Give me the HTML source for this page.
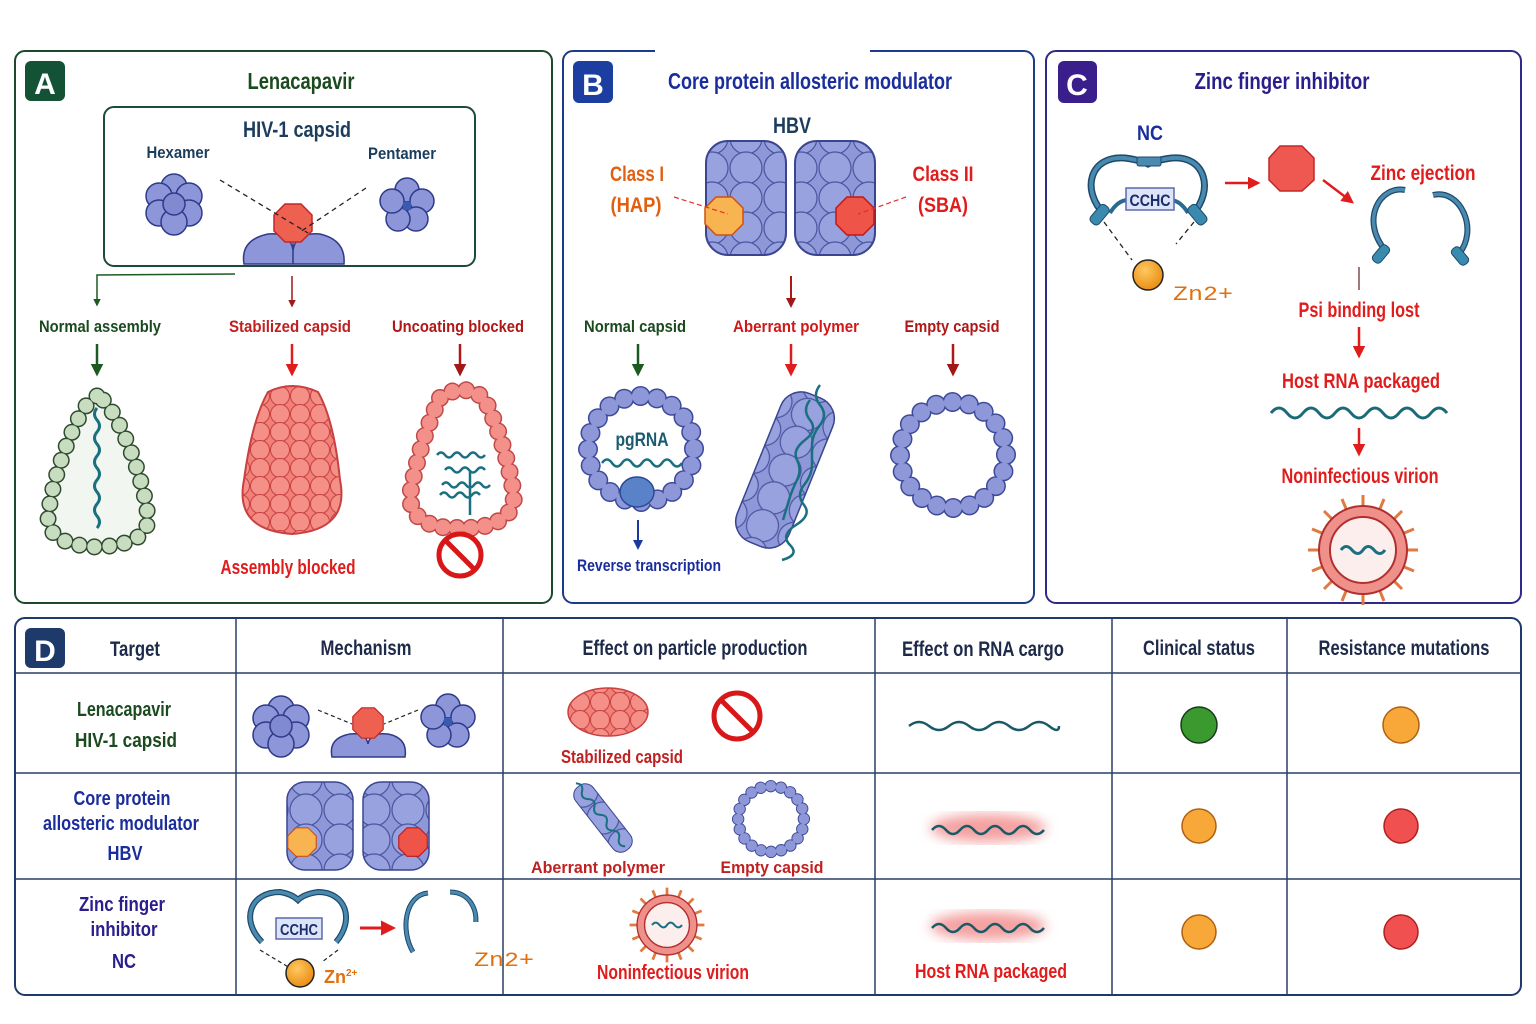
<!DOCTYPE html>
<html><head><meta charset="utf-8"><style>
html,body{margin:0;padding:0;background:#fff}
svg{display:block}
text{font-family:"Liberation Sans",sans-serif;font-weight:bold}
</style></head><body>
<svg width="1536" height="1024" viewBox="0 0 1536 1024" xmlns="http://www.w3.org/2000/svg">
<defs>
<marker id="ar" viewBox="0 0 10 10" refX="8" refY="5" markerWidth="5" markerHeight="5" orient="auto"><path d="M0,0L10,5L0,10z" fill="#e01c1c"/></marker>
<marker id="ad" viewBox="0 0 10 10" refX="8" refY="5" markerWidth="5" markerHeight="5" orient="auto"><path d="M0,0L10,5L0,10z" fill="#a01818"/></marker>
<marker id="ag" viewBox="0 0 10 10" refX="8" refY="5" markerWidth="5" markerHeight="5" orient="auto"><path d="M0,0L10,5L0,10z" fill="#1d5a22"/></marker>
<marker id="ab" viewBox="0 0 10 10" refX="8" refY="5" markerWidth="5" markerHeight="5" orient="auto"><path d="M0,0L10,5L0,10z" fill="#1a3aa0"/></marker>
<pattern id="redhex" width="20" height="18" patternUnits="userSpaceOnUse">
<circle cx="10" cy="9" r="9.5" fill="#f08078" stroke="#c84040" stroke-width="1"/>
<circle cx="0" cy="0" r="9.5" fill="#f59088" stroke="#c84040" stroke-width="1"/>
<circle cx="20" cy="0" r="9.5" fill="#f59088" stroke="#c84040" stroke-width="1"/>
<circle cx="0" cy="18" r="9.5" fill="#f59088" stroke="#c84040" stroke-width="1"/>
<circle cx="20" cy="18" r="9.5" fill="#f59088" stroke="#c84040" stroke-width="1"/>
</pattern>
<pattern id="bluehex" width="34" height="30" patternUnits="userSpaceOnUse">
<circle cx="17" cy="15" r="16" fill="#8e98d8" stroke="#4a55a0" stroke-width="1.2"/>
<circle cx="0" cy="0" r="16" fill="#98a2de" stroke="#4a55a0" stroke-width="1.2"/>
<circle cx="34" cy="0" r="16" fill="#98a2de" stroke="#4a55a0" stroke-width="1.2"/>
<circle cx="0" cy="30" r="16" fill="#98a2de" stroke="#4a55a0" stroke-width="1.2"/>
<circle cx="34" cy="30" r="16" fill="#98a2de" stroke="#4a55a0" stroke-width="1.2"/>
</pattern>
<radialGradient id="zn" cx="0.4" cy="0.35" r="0.7"><stop offset="0" stop-color="#ffc860"/><stop offset="1" stop-color="#e88a10"/></radialGradient>
<filter id="blur"><feGaussianBlur stdDeviation="6"/></filter>
<g id="hexa">
<circle cx="0" cy="-17" r="13" fill="#8c96d8" stroke="#2f3a8a" stroke-width="1.5"/>
<circle cx="-15" cy="-8" r="13" fill="#8c96d8" stroke="#2f3a8a" stroke-width="1.5"/>
<circle cx="15" cy="-8" r="13" fill="#8c96d8" stroke="#2f3a8a" stroke-width="1.5"/>
<circle cx="-15" cy="9" r="13" fill="#8c96d8" stroke="#2f3a8a" stroke-width="1.5"/>
<circle cx="15" cy="9" r="13" fill="#8c96d8" stroke="#2f3a8a" stroke-width="1.5"/>
<circle cx="0" cy="18" r="13" fill="#8c96d8" stroke="#2f3a8a" stroke-width="1.5"/>
<circle cx="0" cy="0" r="11" fill="#7f8ad0" stroke="#2f3a8a" stroke-width="1.5"/>
</g>
<g id="penta">
<circle cx="0" cy="-16" r="12" fill="#8c96d8" stroke="#2f3a8a" stroke-width="1.5"/>
<circle cx="15" cy="-5" r="12" fill="#8c96d8" stroke="#2f3a8a" stroke-width="1.5"/>
<circle cx="9" cy="13" r="12" fill="#8c96d8" stroke="#2f3a8a" stroke-width="1.5"/>
<circle cx="-9" cy="13" r="12" fill="#8c96d8" stroke="#2f3a8a" stroke-width="1.5"/>
<circle cx="-15" cy="-5" r="12" fill="#8c96d8" stroke="#2f3a8a" stroke-width="1.5"/>
<rect x="-4" y="-4" width="8" height="8" fill="#3a5ab0"/>
</g>
<path id="oct" d="M-8,-19L8,-19L19,-8L19,8L8,19L-8,19L-19,8L-19,-8Z"/>
<g id="blob">
<rect x="-40" y="-57" width="80" height="114" rx="22" fill="url(#bluehex)" stroke="#3a4590" stroke-width="2"/>
</g>
<g id="ringc">
<circle r="53" fill="none" stroke="#3d4a9a" stroke-width="20" stroke-dasharray="0 16.6" stroke-linecap="round"/>
<circle r="53" fill="none" stroke="#8e98d8" stroke-width="17" stroke-dasharray="0 16.6" stroke-linecap="round"/>
</g>
</defs>

<!-- Panel A -->
<rect x="15" y="51" width="537" height="552" rx="10" fill="#fff" stroke="#1d4a2c" stroke-width="2"/>
<rect x="25" y="61" width="40" height="40" rx="6" fill="#145236"/>
<text x="45" y="94" text-anchor="middle" font-size="30" fill="#fff">A</text>
<text x="301" y="89" text-anchor="middle" font-size="23" fill="#1a4a1e" textLength="107" lengthAdjust="spacingAndGlyphs">Lenacapavir</text>
<rect x="104" y="107" width="371" height="159" rx="10" fill="#fff" stroke="#1d4a3c" stroke-width="2"/>
<text x="297" y="137" text-anchor="middle" font-size="22" fill="#1c3c5c" textLength="108" lengthAdjust="spacingAndGlyphs">HIV-1 capsid</text>
<text x="178" y="158" text-anchor="middle" font-size="17" fill="#1c3c5c" textLength="63" lengthAdjust="spacingAndGlyphs">Hexamer</text>
<text x="402" y="159" text-anchor="middle" font-size="17" fill="#1c3c5c" textLength="68" lengthAdjust="spacingAndGlyphs">Pentamer</text>
<use href="#hexa" x="174" y="204"/>
<use href="#penta" x="407" y="206"/>
<path d="M244,264 Q240,240 268,234 Q290,232 293,250 Q296,232 320,234 Q346,240 344,264Z" fill="#8c96d8" stroke="#2f3a8a" stroke-width="1.5"/>
<line x1="293" y1="240" x2="293" y2="264" stroke="#2f3a8a" stroke-width="1.5"/>
<use href="#oct" x="293" y="223" fill="#ee6050" stroke="#c02828" stroke-width="1.5"/>
<path d="M220,180L308,233M366,188L300,232" stroke="#222" stroke-width="1.3" stroke-dasharray="5 4" fill="none"/>
<path d="M235,274L97,275L97,305" stroke="#1d5a22" stroke-width="1.5" fill="none" marker-end="url(#ag)"/>
<line x1="292" y1="276" x2="292" y2="306" stroke="#a01818" stroke-width="1.5" marker-end="url(#ad)"/>
<text x="100" y="332" text-anchor="middle" font-size="17" fill="#1a4a1e" textLength="122" lengthAdjust="spacingAndGlyphs">Normal assembly</text>
<text x="290" y="332" text-anchor="middle" font-size="17" fill="#c02020" textLength="122" lengthAdjust="spacingAndGlyphs">Stabilized capsid</text>
<text x="458" y="332" text-anchor="middle" font-size="17" fill="#b01818" textLength="132" lengthAdjust="spacingAndGlyphs">Uncoating blocked</text>
<line x1="97" y1="344" x2="97" y2="374" stroke="#1d5a22" stroke-width="2.5" marker-end="url(#ag)"/>
<line x1="292" y1="344" x2="292" y2="374" stroke="#e01c1c" stroke-width="2.5" marker-end="url(#ar)"/>
<line x1="460" y1="344" x2="460" y2="374" stroke="#b01818" stroke-width="2.5" marker-end="url(#ad)"/>
<!-- green cone -->
<path d="M97,396 C80,400 50,480 48,520 Q50,545 97,547 Q146,545 148,520 C146,480 114,400 97,396Z" fill="#f2f6f0" stroke="#2e4a2e" stroke-width="17" stroke-dasharray="0 15" stroke-linecap="round"/>
<path d="M97,396 C80,400 50,480 48,520 Q50,545 97,547 Q146,545 148,520 C146,480 114,400 97,396Z" fill="none" stroke="#c8dcc0" stroke-width="14" stroke-dasharray="0 15" stroke-linecap="round"/>
<path d="M97,408 q-5,6 0,12 t0,12 t0,12 t0,12 t0,12 t0,12 t0,12 t0,12 t0,12 t0,12" stroke="#1a7080" stroke-width="3" fill="none"/>
<!-- red filled cone -->
<path d="M268,392 Q292,380 318,392 Q334,420 340,480 Q350,530 292,534 Q234,530 244,480 Q252,420 268,392Z" fill="url(#redhex)" stroke="#c84040" stroke-width="2"/>
<text x="288" y="574" text-anchor="middle" font-size="20" fill="#e01c1c" textLength="135" lengthAdjust="spacingAndGlyphs">Assembly blocked</text>
<!-- red ring cone -->
<path d="M440,398 Q462,382 484,398 Q505,440 514,495 Q514,525 470,528 L450,528 Q410,525 410,495 Q420,440 440,398Z" fill="#fff" stroke="#c04848" stroke-width="18" stroke-dasharray="0 14" stroke-linecap="round"/>
<path d="M440,398 Q462,382 484,398 Q505,440 514,495 Q514,525 470,528 L450,528 Q410,525 410,495 Q420,440 440,398Z" fill="none" stroke="#f4908a" stroke-width="15" stroke-dasharray="0 14" stroke-linecap="round"/>
<path d="M437,455 q4,-5 8,0 t8,0 t8,0 t8,0 t8,0 t8,0 M445,470 q4,-5 8,0 t8,0 t8,0 t8,0 t8,0 M442,485 q4,-5 8,0 t8,0 t8,0 t8,0 t8,0 t8,0 M440,495 q4,-5 8,0 t8,0 t8,0 t8,0 t8,0 M470,470 L470,515" stroke="#1a7080" stroke-width="2.5" fill="none"/>
<circle cx="460" cy="555" r="21" fill="#fff" stroke="#d81818" stroke-width="5"/>
<line x1="446" y1="541" x2="474" y2="569" stroke="#d81818" stroke-width="5"/>

<!-- Panel B -->
<rect x="563" y="51" width="471" height="552" rx="10" fill="#fff" stroke="#1e3a8a" stroke-width="2"/>
<rect x="655" y="45" width="215" height="10" fill="#fff"/>
<rect x="573" y="61" width="40" height="42" rx="6" fill="#1c3ea0"/>
<text x="593" y="95" text-anchor="middle" font-size="30" fill="#fff">B</text>
<text x="810" y="89" text-anchor="middle" font-size="23" fill="#1a2d9c" textLength="284" lengthAdjust="spacingAndGlyphs">Core protein allosteric modulator</text>
<text x="792" y="133" text-anchor="middle" font-size="22" fill="#1c3c5c" textLength="38" lengthAdjust="spacingAndGlyphs">HBV</text>
<use href="#blob" x="746" y="198"/>
<use href="#blob" x="835" y="198"/>
<use href="#oct" x="724" y="216" fill="#f8b450" stroke="#d05010" stroke-width="1.5"/>
<use href="#oct" x="855" y="216" fill="#ee5448" stroke="#c01818" stroke-width="1.5"/>
<text x="637" y="181" text-anchor="middle" font-size="21" fill="#e06010" textLength="54" lengthAdjust="spacingAndGlyphs">Class I</text>
<text x="636" y="212" text-anchor="middle" font-size="21" fill="#e06010" textLength="51" lengthAdjust="spacingAndGlyphs">(HAP)</text>
<text x="943" y="181" text-anchor="middle" font-size="21" fill="#e01c1c" textLength="61" lengthAdjust="spacingAndGlyphs">Class II</text>
<text x="943" y="212" text-anchor="middle" font-size="21" fill="#e01c1c" textLength="50" lengthAdjust="spacingAndGlyphs">(SBA)</text>
<path d="M674,197L728,214M906,197L858,214" stroke="#e03030" stroke-width="1.2" stroke-dasharray="5 3"/>
<line x1="791" y1="276" x2="791" y2="306" stroke="#b01818" stroke-width="2" marker-end="url(#ad)"/>
<text x="635" y="332" text-anchor="middle" font-size="17" fill="#1a4a1e" textLength="102" lengthAdjust="spacingAndGlyphs">Normal capsid</text>
<text x="796" y="332" text-anchor="middle" font-size="17" fill="#d01818" textLength="126" lengthAdjust="spacingAndGlyphs">Aberrant polymer</text>
<text x="952" y="332" text-anchor="middle" font-size="17" fill="#b01818" textLength="95" lengthAdjust="spacingAndGlyphs">Empty capsid</text>
<line x1="638" y1="344" x2="638" y2="374" stroke="#1d5a22" stroke-width="2.5" marker-end="url(#ag)"/>
<line x1="791" y1="344" x2="791" y2="374" stroke="#e01c1c" stroke-width="2.5" marker-end="url(#ar)"/>
<line x1="953" y1="344" x2="953" y2="374" stroke="#b01818" stroke-width="2.5" marker-end="url(#ad)"/>
<use href="#ringc" x="641" y="449"/>
<text x="642" y="446" text-anchor="middle" font-size="19" fill="#1a5a70" textLength="53" lengthAdjust="spacingAndGlyphs">pgRNA</text>
<path d="M602,463 q5,-7 10,0 t10,0 t10,0 t10,0 t10,0 t10,0 t10,0 t10,0" stroke="#1a7080" stroke-width="2.5" fill="none"/>
<ellipse cx="637" cy="492" rx="17" ry="15" fill="#5a82c8" stroke="#2a4a98" stroke-width="1.5"/>
<line x1="638" y1="520" x2="638" y2="548" stroke="#1a3aa0" stroke-width="2" marker-end="url(#ab)"/>
<text x="649" y="571" text-anchor="middle" font-size="17" fill="#1a2d9c" textLength="144" lengthAdjust="spacingAndGlyphs">Reverse transcription</text>
<g transform="translate(785,470) rotate(22)">
<rect x="-28" y="-80" width="56" height="160" rx="22" fill="url(#bluehex)" stroke="#3a4590" stroke-width="1.5"/>
</g>
<path d="M820,385 q-8,10 0,20 t0,20 t-8,20 t0,20 t-8,20 t0,20 t-8,20 t-6,20 t-8,15 M810,400 q-8,10 0,20 t-5,20 t-8,20 t0,20 t-8,20 t-6,20" stroke="#1a7080" stroke-width="2.5" fill="none"/>
<use href="#ringc" x="953" y="455"/>

<!-- Panel C -->
<rect x="1046" y="51" width="475" height="552" rx="10" fill="#fff" stroke="#2e2a8a" stroke-width="2"/>
<rect x="1058" y="61" width="39" height="42" rx="6" fill="#3a1e8c"/>
<text x="1077" y="95" text-anchor="middle" font-size="30" fill="#fff">C</text>
<text x="1282" y="89" text-anchor="middle" font-size="23" fill="#2a1e8c" textLength="175" lengthAdjust="spacingAndGlyphs">Zinc finger inhibitor</text>
<text x="1150" y="140" text-anchor="middle" font-size="21" fill="#1a2d9c" textLength="26" lengthAdjust="spacingAndGlyphs">NC</text>
<path d="M1105,215 C1080,190 1090,155 1125,158 Q1140,160 1148,164 Q1156,160 1172,158 C1205,155 1215,190 1192,215" fill="none" stroke="#1e4a6a" stroke-width="7"/>
<path d="M1105,215 C1080,190 1090,155 1125,158 Q1140,160 1148,164 Q1156,160 1172,158 C1205,155 1215,190 1192,215" fill="none" stroke="#4a8ab0" stroke-width="4"/>
<path d="M1110,213 Q1118,200 1128,200 M1170,200 Q1180,200 1188,213" stroke="#2a6a90" stroke-width="4" fill="none"/>
<rect x="1137" y="157" width="24" height="9" rx="2" fill="#4a8ab0" stroke="#1e4a6a"/>
<rect x="1126" y="188" width="48" height="22" fill="#dde4f8" stroke="#5a6ab0" stroke-width="1.5"/>
<text x="1150" y="206" text-anchor="middle" font-size="17" fill="#1a2d6c" textLength="41" lengthAdjust="spacingAndGlyphs">CCHC</text>
<rect x="1094" y="204" width="11" height="22" rx="4" transform="rotate(40 1100 215)" fill="#3a8ab0" stroke="#1e4a6a"/>
<rect x="1192" y="204" width="11" height="22" rx="4" transform="rotate(-40 1197 215)" fill="#3a8ab0" stroke="#1e4a6a"/>
<path d="M1104,222L1132,260M1194,222L1176,244" stroke="#222" stroke-width="1.3" stroke-dasharray="5 4"/>
<circle cx="1148" cy="275" r="15" fill="url(#zn)" stroke="#222" stroke-width="1.5"/>
<text x="1173" y="300" font-size="20" fill="#e07010" style="font-family:'Liberation Mono',monospace;font-weight:normal" textLength="60" lengthAdjust="spacingAndGlyphs">Zn2+</text>
<line x1="1225" y1="183" x2="1258" y2="183" stroke="#e01c1c" stroke-width="2.5" marker-end="url(#ar)"/>
<path d="M1280,146L1302,146L1314,158L1314,180L1302,191L1280,191L1269,180L1269,158Z" fill="#ee5850" stroke="#c02828" stroke-width="1.5"/>
<line x1="1323" y1="180" x2="1352" y2="202" stroke="#e01c1c" stroke-width="2.5" marker-end="url(#ar)"/>
<text x="1423" y="180" text-anchor="middle" font-size="21" fill="#e01c1c" textLength="105" lengthAdjust="spacingAndGlyphs">Zinc ejection</text>
<path d="M1405,190 C1380,185 1360,220 1385,250 M1433,195 C1460,188 1480,230 1458,255" fill="none" stroke="#1e4a6a" stroke-width="6"/>
<path d="M1405,190 C1380,185 1360,220 1385,250 M1433,195 C1460,188 1480,230 1458,255" fill="none" stroke="#4a8ab0" stroke-width="3.5"/>
<rect x="1376" y="244" width="10" height="20" rx="4" transform="rotate(40 1381 254)" fill="#3a8ab0" stroke="#1e4a6a"/>
<rect x="1455" y="246" width="10" height="20" rx="4" transform="rotate(-40 1460 256)" fill="#3a8ab0" stroke="#1e4a6a"/>
<line x1="1359" y1="267" x2="1359" y2="290" stroke="#602020" stroke-width="1.2"/>
<text x="1359" y="317" text-anchor="middle" font-size="21" fill="#e01c1c" textLength="121" lengthAdjust="spacingAndGlyphs">Psi binding lost</text>
<line x1="1359" y1="327" x2="1359" y2="356" stroke="#e01c1c" stroke-width="2.5" marker-end="url(#ar)"/>
<text x="1361" y="388" text-anchor="middle" font-size="21" fill="#e01c1c" textLength="158" lengthAdjust="spacingAndGlyphs">Host RNA packaged</text>
<path d="M1271,413 q8,-10 16,0 t16,0 t16,0 t16,0 t16,0 t16,0 t16,0 t16,0 t16,0 t16,0 t16,0" stroke="#1a6a78" stroke-width="3" fill="none"/>
<line x1="1359" y1="428" x2="1359" y2="454" stroke="#e01c1c" stroke-width="2.5" marker-end="url(#ar)"/>
<text x="1360" y="483" text-anchor="middle" font-size="21" fill="#e01c1c" textLength="157" lengthAdjust="spacingAndGlyphs">Noninfectious virion</text>
<g transform="translate(1363,550)">
<g stroke="#e07a40" stroke-width="3">
<line x1="0" y1="-55" x2="0" y2="55"/><line x1="-55" y1="0" x2="55" y2="0"/>
<line x1="-39" y1="-39" x2="39" y2="39"/><line x1="-39" y1="39" x2="39" y2="-39"/>
<line x1="-21" y1="-51" x2="21" y2="51"/><line x1="21" y1="-51" x2="-21" y2="51"/>
<line x1="-51" y1="-21" x2="51" y2="21"/><line x1="-51" y1="21" x2="51" y2="-21"/>
</g>
<circle r="44" fill="#f0908a" stroke="#b03030" stroke-width="2"/>
<circle r="33" fill="#fdeeee" stroke="#b03030" stroke-width="2"/>
<path d="M-22,0 q5,-7 11,0 t11,0 t11,0 t11,0" stroke="#1a7080" stroke-width="3" fill="none"/>
</g>

<!-- Panel D -->
<rect x="15" y="618" width="1506" height="377" rx="10" fill="#fff" stroke="#1e3a6a" stroke-width="2"/>
<g stroke="#2a3e6a" stroke-width="1.5">
<line x1="15" y1="673" x2="1521" y2="673"/>
<line x1="15" y1="773" x2="1521" y2="773"/>
<line x1="15" y1="879" x2="1521" y2="879"/>
<line x1="236" y1="618" x2="236" y2="995"/>
<line x1="503" y1="618" x2="503" y2="995"/>
<line x1="875" y1="618" x2="875" y2="995"/>
<line x1="1112" y1="618" x2="1112" y2="995"/>
<line x1="1287" y1="618" x2="1287" y2="995"/>
</g>
<rect x="25" y="628" width="40" height="40" rx="6" fill="#1e3a6a"/>
<text x="45" y="661" text-anchor="middle" font-size="30" fill="#fff">D</text>
<g font-size="21" fill="#1e2a4a" text-anchor="middle" font-weight="normal">
<text x="135" y="656" textLength="50" lengthAdjust="spacingAndGlyphs">Target</text>
<text x="366" y="655" textLength="91" lengthAdjust="spacingAndGlyphs">Mechanism</text>
<text x="695" y="655" textLength="225" lengthAdjust="spacingAndGlyphs">Effect on particle production</text>
<text x="983" y="656" textLength="162" lengthAdjust="spacingAndGlyphs">Effect on RNA cargo</text>
<text x="1199" y="655" textLength="112" lengthAdjust="spacingAndGlyphs">Clinical status</text>
<text x="1404" y="655" textLength="171" lengthAdjust="spacingAndGlyphs">Resistance mutations</text>
</g>
<g font-size="20" text-anchor="middle" font-weight="normal">
<text x="124" y="716" fill="#1a4a1e" textLength="94" lengthAdjust="spacingAndGlyphs">Lenacapavir</text>
<text x="126" y="747" fill="#1a4a1e" textLength="102" lengthAdjust="spacingAndGlyphs">HIV-1 capsid</text>
<text x="122" y="805" fill="#1a2d9c" textLength="97" lengthAdjust="spacingAndGlyphs">Core protein</text>
<text x="121" y="830" fill="#1a2d9c" textLength="156" lengthAdjust="spacingAndGlyphs">allosteric modulator</text>
<text x="125" y="860" fill="#1a2d9c" textLength="35" lengthAdjust="spacingAndGlyphs">HBV</text>
<text x="122" y="911" fill="#2a1e8c" textLength="86" lengthAdjust="spacingAndGlyphs">Zinc finger</text>
<text x="124" y="936" fill="#2a1e8c" textLength="67" lengthAdjust="spacingAndGlyphs">inhibitor</text>
<text x="124" y="968" fill="#2a1e8c" textLength="24" lengthAdjust="spacingAndGlyphs">NC</text>
</g>
<!-- row1 mechanism -->
<use href="#hexa" x="281" y="726"/>
<use href="#penta" x="448" y="722"/>
<path d="M332,757 Q328,738 350,734 Q366,732 368,744 Q370,732 388,734 Q408,738 405,757Z" fill="#8c96d8" stroke="#2f3a8a" stroke-width="1.5"/>
<use href="#oct" x="368" y="723" transform="translate(368 723) scale(0.8) translate(-368 -723)" fill="#ee6050" stroke="#c02828" stroke-width="1.5"/>
<path d="M318,710L352,724M418,710L384,724" stroke="#222" stroke-width="1.2" stroke-dasharray="4 3"/>
<ellipse cx="608" cy="712" rx="40" ry="24" fill="url(#redhex)" stroke="#c84040" stroke-width="1.5"/>
<text x="622" y="763" text-anchor="middle" font-size="18" fill="#c02020" textLength="122" lengthAdjust="spacingAndGlyphs">Stabilized capsid</text>
<circle cx="737" cy="716" r="23" fill="#fff" stroke="#d81818" stroke-width="5"/>
<line x1="721" y1="700" x2="753" y2="732" stroke="#d81818" stroke-width="5"/>
<path d="M909,726 q10,-8 20,0 t20,0 t20,0 t20,0 t20,0 t20,0 t20,0 t10,0" stroke="#1a5a68" stroke-width="2.5" fill="none"/>
<circle cx="1199" cy="725" r="18" fill="#3a9a30" stroke="#1a3a1a" stroke-width="1.5"/>
<circle cx="1401" cy="725" r="18" fill="#f8a838" stroke="#b06010" stroke-width="1.5"/>
<!-- row2 -->
<rect x="287" y="782" width="66" height="88" rx="18" fill="url(#bluehex)" stroke="#3a4590" stroke-width="1.5"/>
<rect x="363" y="782" width="66" height="88" rx="18" fill="url(#bluehex)" stroke="#3a4590" stroke-width="1.5"/>
<use href="#oct" x="302" y="842" transform="translate(302 842) scale(0.75) translate(-302 -842)" fill="#f8b450" stroke="#d05010" stroke-width="1.5"/>
<use href="#oct" x="413" y="842" transform="translate(413 842) scale(0.75) translate(-413 -842)" fill="#ee5448" stroke="#c01818" stroke-width="1.5"/>
<g transform="translate(603,818) rotate(52)">
<rect x="-40" y="-11" width="80" height="22" rx="10" fill="url(#bluehex)" stroke="#3a4590"/>
<path d="M-44,0 q5,-6 10,0 t10,0 t10,0 t10,0 t10,0 t10,0 t10,0 t10,0" stroke="#1a7080" stroke-width="2" fill="none"/>
</g>
<g transform="translate(771,819) scale(0.62)"><use href="#ringc"/></g>
<text x="598" y="873" text-anchor="middle" font-size="17" fill="#c02020" textLength="134" lengthAdjust="spacingAndGlyphs">Aberrant polymer</text>
<text x="772" y="873" text-anchor="middle" font-size="17" fill="#c02020" textLength="103" lengthAdjust="spacingAndGlyphs">Empty capsid</text>
<ellipse cx="988" cy="828" rx="58" ry="14" fill="#f4a0a0" filter="url(#blur)"/>
<path d="M932,830 q7,-8 14,0 t14,0 t14,0 t14,0 t14,0 t14,0 t14,0 t14,0" stroke="#1a5a68" stroke-width="2.5" fill="none"/>
<circle cx="1199" cy="826" r="17" fill="#f8a838" stroke="#b06010" stroke-width="1.5"/>
<circle cx="1401" cy="826" r="17" fill="#f05050" stroke="#b02020" stroke-width="1.5"/>
<!-- row3 -->
<path d="M262,942 C240,920 250,892 280,892 Q292,894 298,900 Q304,894 318,892 C346,892 355,920 336,942" fill="none" stroke="#1e4a6a" stroke-width="6"/>
<path d="M262,942 C240,920 250,892 280,892 Q292,894 298,900 Q304,894 318,892 C346,892 355,920 336,942" fill="none" stroke="#4a8ab0" stroke-width="3.5"/>
<rect x="276" y="918" width="46" height="21" fill="#dde4f8" stroke="#5a6ab0" stroke-width="1.5"/>
<text x="299" y="935" text-anchor="middle" font-size="16" fill="#1a2d6c" textLength="38" lengthAdjust="spacingAndGlyphs">CCHC</text>
<path d="M260,950L290,968M338,950L322,962" stroke="#222" stroke-width="1.2" stroke-dasharray="4 3"/>
<circle cx="300" cy="973" r="14" fill="url(#zn)" stroke="#222" stroke-width="1.5"/>
<text x="324" y="983" font-size="18" fill="#e07010">Zn<tspan font-size="10" dy="-7">2+</tspan></text>
<line x1="360" y1="928" x2="393" y2="928" stroke="#e01c1c" stroke-width="3" marker-end="url(#ar)"/>
<path d="M428,893 C405,895 400,930 413,952 M450,892 C472,892 480,915 474,930" fill="none" stroke="#1e4a6a" stroke-width="5"/>
<path d="M428,893 C405,895 400,930 413,952 M450,892 C472,892 480,915 474,930" fill="none" stroke="#4a8ab0" stroke-width="3"/>
<rect x="462" y="922" width="40" height="30" fill="#fff"/>
<text x="474" y="966" font-size="20" fill="#e07010" style="font-family:'Liberation Mono',monospace;font-weight:normal" textLength="60" lengthAdjust="spacingAndGlyphs">Zn2+</text>
<g transform="translate(667,925) scale(0.68)">
<g stroke="#e07a40" stroke-width="4">
<line x1="0" y1="-55" x2="0" y2="55"/><line x1="-55" y1="0" x2="55" y2="0"/>
<line x1="-39" y1="-39" x2="39" y2="39"/><line x1="-39" y1="39" x2="39" y2="-39"/>
<line x1="-21" y1="-51" x2="21" y2="51"/><line x1="21" y1="-51" x2="-21" y2="51"/>
<line x1="-51" y1="-21" x2="51" y2="21"/><line x1="-51" y1="21" x2="51" y2="-21"/>
</g>
<circle r="44" fill="#f0908a" stroke="#b03030" stroke-width="2"/>
<circle r="33" fill="#fdeeee" stroke="#b03030" stroke-width="2"/>
<path d="M-22,0 q5,-7 11,0 t11,0 t11,0 t11,0" stroke="#1a7080" stroke-width="3" fill="none"/>
</g>
<text x="673" y="979" text-anchor="middle" font-size="20" fill="#e01c1c" textLength="152" lengthAdjust="spacingAndGlyphs">Noninfectious virion</text>
<ellipse cx="988" cy="926" rx="58" ry="14" fill="#f4a0a0" filter="url(#blur)"/>
<path d="M932,928 q7,-8 14,0 t14,0 t14,0 t14,0 t14,0 t14,0 t14,0 t14,0" stroke="#1a5a68" stroke-width="2.5" fill="none"/>
<text x="991" y="978" text-anchor="middle" font-size="20" fill="#e01c1c" textLength="152" lengthAdjust="spacingAndGlyphs">Host RNA packaged</text>
<circle cx="1199" cy="932" r="17" fill="#f8a838" stroke="#b06010" stroke-width="1.5"/>
<circle cx="1401" cy="932" r="17" fill="#f05050" stroke="#b02020" stroke-width="1.5"/>
</svg>
</body></html>
